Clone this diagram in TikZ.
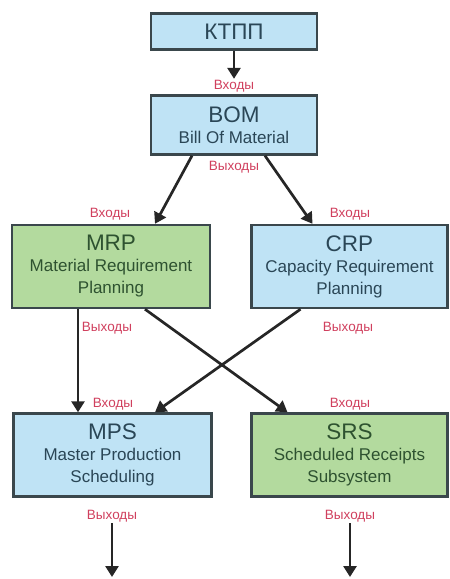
\documentclass[tikz,border=0pt]{standalone}
\usepackage{fontspec}
\setmainfont{Liberation Sans}
\usetikzlibrary{arrows.meta}
\definecolor{boxblue}{HTML}{BFE3F5}
\definecolor{boxgreen}{HTML}{B3DA9E}
\definecolor{boxedge}{HTML}{3A474C}
\definecolor{bluetext}{HTML}{2A4656}
\definecolor{greentext}{HTML}{2E5230}
\definecolor{labred}{HTML}{D0405E}
\newcommand{\ttl}{\fontsize{22.5}{24}\selectfont}
\newcommand{\sub}{\fontsize{17}{22}\selectfont}
\newcommand{\lab}{\fontsize{13.5}{14}\selectfont}

\begin{document}
\begin{tikzpicture}[x=1pt,y=-1pt]
  \tikzset{blk/.style={draw=boxedge,line width=2.4pt,inner sep=0pt,align=center,font=\sub,
                       fill=boxblue,text=bluetext,minimum width=198pt,minimum height=83pt}}
  \tikzset{grn/.style={blk,fill=boxgreen,text=greentext}}
  \tikzset{lbl/.style={text=labred,inner sep=1pt,font=\lab}}
  \tikzset{arr/.style={draw=black!85,line width=2.7pt,-{Triangle[length=11pt,width=13pt]}}}
  \useasboundingbox (0,0) rectangle (450,579);

  % boxes
  \node[blk,minimum width=166pt,minimum height=36pt,font=\ttl] (ktpp) at (234,31.5) {КТПП};
  \node[blk,minimum width=166pt,minimum height=59pt] (bom) at (234,125) {{\ttl BOM}\\[-1pt]Bill Of Material};
  \node[grn] (mrp) at (111,266.5) {{\ttl MRP}\\[-1pt]Material Requirement\\Planning};
  \node[blk,minimum width=196pt] (crp) at (349.5,266.5) {{\ttl CRP}\\[-1pt]Capacity Requirement\\Planning};
  \node[blk] (mps) at (112.5,455) {{\ttl MPS}\\[-1pt]Master Production\\Scheduling};
  \node[grn,minimum width=196pt] (srs) at (349.5,455) {{\ttl SRS}\\[-1pt]Scheduled Receipts\\Subsystem};

  % inputs and outputs
  \node[lbl] (inbom) at (234,86) {Входы};
  \node[lbl] (outbom) at (234,167) {Выходы};
  \node[lbl] (inmrp) at (110,214) {Входы};
  \node[lbl] (incrp) at (350,214) {Входы};
  \node[lbl] (outmrp) at (107,328) {Выходы};
  \node[lbl] (outcrp) at (348,328) {Выходы};
  \node[lbl] (inmps) at (113,404) {Входы};
  \node[lbl] (insrs) at (350,404) {Входы};
  \node[lbl] (outmps) at (112,516) {Выходы};
  \node[lbl] (outsrs) at (350,516) {Выходы};
  \coordinate (endmps) at (112,577);
  \coordinate (endsrs) at (350,577);

  % links
  \draw[arr] (ktpp.south) -- (inbom.north);
  \draw[arr] ([xshift=-42pt]bom.south) -- ([xshift=44pt]mrp.north);
  \draw[arr] ([xshift=31pt]bom.south) -- ([xshift=-37pt]crp.north);
  \draw[arr] ([xshift=-33pt]mrp.south) -- ([xshift=-34.5pt]mps.north);
  \draw[arr] ([xshift=34pt]mrp.south) -- ([xshift=-62pt]srs.north);
  \draw[arr] ([xshift=-49pt]crp.south) -- ([xshift=42.5pt]mps.north);
  \draw[arr] (outmps.south) -- (endmps);
  \draw[arr] (outsrs.south) -- (endsrs);
\end{tikzpicture}
\end{document}
